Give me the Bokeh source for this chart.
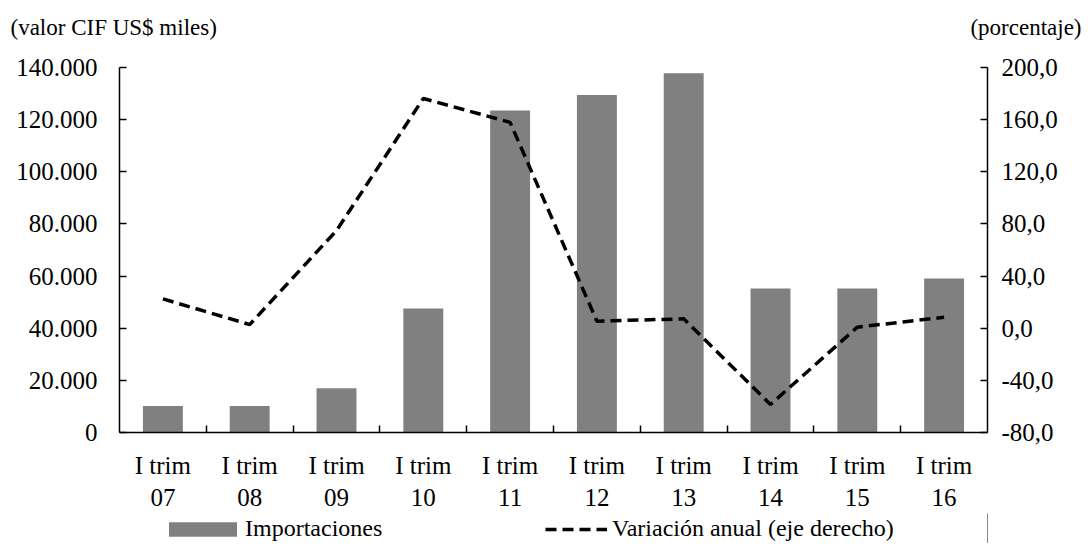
import numpy as np
from bokeh.plotting import figure
from bokeh.layouts import column
from bokeh.models import (Range1d, LinearAxis, FixedTicker, Legend, LegendItem, Label)
from bokeh.embed import file_html
from bokeh.resources import INLINE

categories = ["I trim\n07", "I trim\n08", "I trim\n09", "I trim\n10", "I trim\n11",
              "I trim\n12", "I trim\n13", "I trim\n14", "I trim\n15", "I trim\n16"]
importaciones = [10200, 10200, 17000, 47600, 123500, 129500, 137800, 55200, 55200, 59100]
variacion = [22.5, 2.8, 74.9, 176.2, 157.9, 5.4, 7.2, -58.5, 0.8, 8.4]
left_ticks = [0, 20000, 40000, 60000, 80000, 100000, 120000, 140000]
right_ticks = [-80, -40, 0, 40, 80, 120, 160, 200]
left_unit = "(valor CIF US$ miles)"
right_unit = "(porcentaje)"
series_names = ["Importaciones", "Variación anual (eje derecho)"]

FONT = "Liberation Serif"
FS = "25px"
BAR_COLOR = "#808080"

W, LH = 1083, 30          # canvas width, legend strip height
H = 543 - LH              # main chart height
FL, FR, FT, FB = 119, 987, 67, 432   # frame edges in canvas pixels

n = len(categories)
xc = [i + 0.5 for i in range(n)]

p = figure(width=W, height=H, output_backend="svg", toolbar_location=None,
           x_range=Range1d(0, n), y_range=Range1d(left_ticks[0], left_ticks[-1]),
           min_border_left=FL, min_border_right=W - FR, min_border_top=FT,
           min_border_bottom=H - FB,
           x_axis_type=None, y_axis_type=None)
p.outline_line_color = None
p.grid.visible = False
p.background_fill_color = "white"
p.border_fill_color = "white"

p.extra_y_ranges = {"pct": Range1d(right_ticks[0], right_ticks[-1])}

# x axis
xaxis = LinearAxis(ticker=FixedTicker(ticks=xc, minor_ticks=[i for i in range(1, n)]))
xaxis.major_label_overrides = {x: c for x, c in zip(xc, categories)}
xaxis.major_tick_in = 0
xaxis.major_tick_out = 0
xaxis.minor_tick_in = 7
xaxis.minor_tick_out = 0
xaxis.minor_tick_line_width = 1.5
xaxis.axis_line_width = 1.5
xaxis.major_label_standoff = 19
xaxis.major_label_text_font = FONT
xaxis.major_label_text_font_size = FS
xaxis.major_label_text_color = "black"
p.add_layout(xaxis, "below")

# left axis
laxis = LinearAxis(ticker=FixedTicker(ticks=left_ticks, minor_ticks=[]))
laxis.major_label_overrides = {t: f"{t:,}".replace(",", ".") for t in left_ticks}
laxis.major_tick_in = 7
laxis.major_tick_out = 0
laxis.major_tick_line_width = 1.5
laxis.axis_line_width = 1.5
laxis.major_label_standoff = 22
laxis.major_label_text_font = FONT
laxis.major_label_text_font_size = FS
laxis.major_label_text_color = "black"
p.add_layout(laxis, "left")

# right axis
raxis = LinearAxis(y_range_name="pct", ticker=FixedTicker(ticks=right_ticks, minor_ticks=[]))
raxis.major_label_overrides = {t: f"{t:.1f}".replace(".", ",") for t in right_ticks}
raxis.major_tick_in = 7
raxis.major_tick_out = 0
raxis.major_tick_line_width = 1.5
raxis.axis_line_width = 1.5
raxis.major_label_standoff = 14
raxis.major_label_text_font = FONT
raxis.major_label_text_font_size = FS
raxis.major_label_text_color = "black"
p.add_layout(raxis, "right")

bars = p.vbar(x=xc, top=importaciones, bottom=0, width=0.46,
              fill_color=BAR_COLOR, line_color=None)
line = p.line(x=xc, y=variacion, y_range_name="pct", line_color="black",
              line_width=3.5, line_dash="11 6")

# unit captions in the top panel
p.add_layout(Label(x=10 - FL, y=FT - 27, x_units="screen", y_units="screen",
                   text=left_unit, text_font=FONT, text_font_size="23px",
                   text_baseline="middle", text_align="left", text_color="black"), "above")
p.add_layout(Label(x=W - 2 - FL, y=15, x_units="screen", y_units="screen",
                   text=right_unit, text_font=FONT, text_font_size="23px",
                   text_baseline="middle", text_align="right", text_color="black"), "above")

# legend strip (separate canvas; its frame is aligned with the chart frame)
q = figure(width=W, height=LH, output_backend="svg", toolbar_location=None,
           x_range=Range1d(-2, -1), y_range=Range1d(0, 1),
           min_border_left=FL, min_border_right=W - FR, min_border_top=0, min_border_bottom=0,
           x_axis_location=None, y_axis_location=None, title=None)
q.outline_line_color = None
q.grid.visible = False
q.border_fill_color = "white"
# key renderers carry the same series but lie outside this strip's visible range
key_bar = q.vbar(x=xc, top=importaciones, width=0.46, fill_color=BAR_COLOR, line_color=None)
key_line = q.line(x=xc, y=variacion, line_color="black", line_width=3.5, line_dash="11 6")

common = dict(orientation="horizontal", padding=0, margin=0, border_line_color=None,
              background_fill_alpha=0, label_text_font=FONT, label_text_font_size="24px",
              label_text_color="black")
leg1 = Legend(items=[LegendItem(label=series_names[0], renderers=[key_bar])],
              location=(168 - FL - 8, 1), glyph_width=85, glyph_height=18,
              label_standoff=0, **common)
leg2 = Legend(items=[LegendItem(label=series_names[1], renderers=[key_line])],
              location=(545 - FL, 1), glyph_width=62, glyph_height=18,
              label_standoff=5, **common)
q.add_layout(leg1, "center")
q.add_layout(leg2, "center")

open("out.html", "w").write(file_html(column(p, q), INLINE))
